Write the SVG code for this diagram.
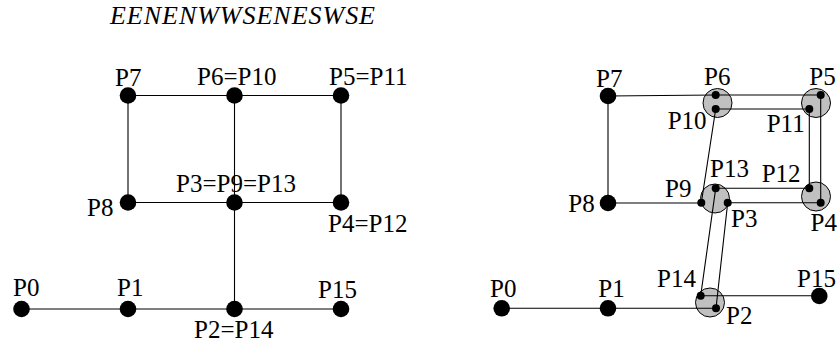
<svg xmlns="http://www.w3.org/2000/svg" width="838" height="348" viewBox="0 0 838 348">
<style>
.ln{stroke:#000;stroke-width:1.1;fill:none}
.dot{fill:#000}
.grp{fill:#c0c0c0;stroke:#000;stroke-width:1}
.lbl{font-family:'Liberation Serif','Times New Roman',serif;font-size:25px;fill:#000}
.title{font-family:'Liberation Serif','Times New Roman',serif;font-style:italic;font-size:26px;fill:#000}
</style>
<rect width="838" height="348" fill="#fff"/>
<text class="title" x="110" y="23.5" textLength="265" lengthAdjust="spacing">EENENWWSENESWSE</text>

<!-- Left diagram connectors -->
<g id="left-connectors">
<path class="ln" d="M21.5 309 H341"/>
<path class="ln" d="M234.5 309 V95.5"/>
<path class="ln" d="M128 95.5 H341 V202.5 H128 Z"/>
</g>
<!-- Left diagram nodes -->
<g class="lbl">
<g id="L-P0"><circle class="dot" cx="21.5" cy="309" r="8.3"/><text x="13" y="296">P0</text></g>
<g id="L-P1"><circle class="dot" cx="128" cy="309" r="8.3"/><text x="117" y="296">P1</text></g>
<g id="L-P2"><circle class="dot" cx="234.5" cy="309" r="8.3"/><text x="194" y="338">P2=P14</text></g>
<g id="L-P15"><circle class="dot" cx="341" cy="309" r="8.3"/><text x="318" y="298">P15</text></g>
<g id="L-P3"><circle class="dot" cx="234.5" cy="202.5" r="8.3"/><text x="176" y="191.5">P3=P9=P13</text></g>
<g id="L-P4"><circle class="dot" cx="341" cy="202.5" r="8.3"/><text x="328" y="231.5">P4=P12</text></g>
<g id="L-P5"><circle class="dot" cx="341" cy="95.5" r="8.3"/><text x="329" y="85">P5=P11</text></g>
<g id="L-P6"><circle class="dot" cx="234.5" cy="95.5" r="8.3"/><text x="197" y="85">P6=P10</text></g>
<g id="L-P7"><circle class="dot" cx="128" cy="95.5" r="8.3"/><text x="115" y="86">P7</text></g>
<g id="L-P8"><circle class="dot" cx="128" cy="202.5" r="8.3"/><text x="87" y="216">P8</text></g>
</g>

<!-- Right diagram: gray merge circles -->
<g id="R-C6"><circle class="grp" cx="717.5" cy="103" r="14.5"/></g>
<g id="R-C5"><circle class="grp" cx="816" cy="103" r="14.5"/></g>
<g id="R-C4"><circle class="grp" cx="816" cy="196.5" r="14.5"/></g>
<g id="R-C3"><circle class="grp" cx="715" cy="198.5" r="14.5"/></g>
<g id="R-C2"><circle class="grp" cx="710" cy="302.5" r="14.5"/></g>

<!-- Right diagram connectors -->
<g id="right-connectors">
<path class="ln" d="M501.7 308.3 H716 L727.7 202.7 H820.7 V95 H715.7 L608 96 V203 H701.3 L715.7 109 H809.3 V188.3 H715.7 L700.7 295.7 H819.3"/>
</g>

<!-- Right diagram nodes -->
<g class="lbl">
<g id="R-P0"><circle class="dot" cx="501.7" cy="308.3" r="8.3"/><text x="490" y="296.7">P0</text></g>
<g id="R-P1"><circle class="dot" cx="608" cy="308.3" r="8.3"/><text x="598.3" y="296.7">P1</text></g>
<g id="R-P2"><circle class="dot" cx="716" cy="308.3" r="4"/><text x="726" y="324">P2</text></g>
<g id="R-P3"><circle class="dot" cx="727.7" cy="202.7" r="4"/><text x="731" y="227">P3</text></g>
<g id="R-P4"><circle class="dot" cx="820.7" cy="202.7" r="4"/><text x="810.5" y="231">P4</text></g>
<g id="R-P5"><circle class="dot" cx="820.7" cy="95" r="4"/><text x="809.3" y="85">P5</text></g>
<g id="R-P6"><circle class="dot" cx="715.7" cy="95" r="4"/><text x="704" y="85">P6</text></g>
<g id="R-P7"><circle class="dot" cx="608" cy="96" r="8.3"/><text x="596" y="87.3">P7</text></g>
<g id="R-P8"><circle class="dot" cx="608" cy="203" r="8.3"/><text x="568.3" y="211.7">P8</text></g>
<g id="R-P9"><circle class="dot" cx="701.3" cy="202.7" r="4"/><text x="665" y="196.7">P9</text></g>
<g id="R-P10"><circle class="dot" cx="715.7" cy="109" r="4"/><text x="667.7" y="129.3">P10</text></g>
<g id="R-P11"><circle class="dot" cx="809.3" cy="109" r="4"/><text x="766.7" y="131.7">P11</text></g>
<g id="R-P12"><circle class="dot" cx="809.3" cy="188.3" r="4"/><text x="761.7" y="182.3">P12</text></g>
<g id="R-P13"><circle class="dot" cx="715.7" cy="188.3" r="4"/><text x="710" y="176.7">P13</text></g>
<g id="R-P14"><circle class="dot" cx="700.7" cy="295.7" r="4"/><text x="657" y="287.3">P14</text></g>
<g id="R-P15"><circle class="dot" cx="819.3" cy="296" r="8.3"/><text x="797" y="287.3">P15</text></g>
</g>
</svg>
